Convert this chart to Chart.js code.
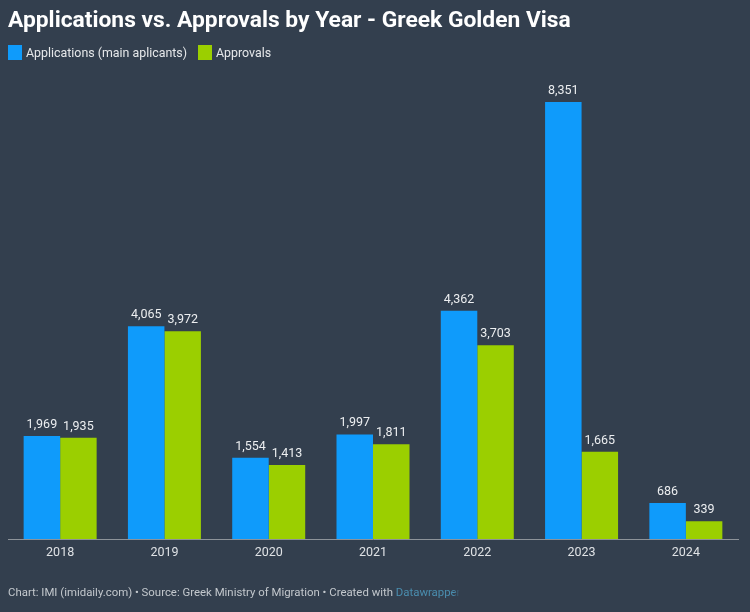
<!DOCTYPE html>
<html>
<head>
<meta charset="utf-8">
<script src="https://cdn.jsdelivr.net/npm/chart.js@4"></script>
<style>
  html, body { margin: 0; padding: 0; background: #333f4e; }
  body { position: relative; width: 750px; height: 612px; overflow: hidden; font-family: Roboto, sans-serif; }
  canvas { position: absolute; left: 0; top: 0; }
  .title { position: absolute; left: 8px; top: 6px; color: #fff; font-size: 22.8px; font-weight: 700; line-height: 28px; white-space: nowrap; }
  .legend { position: absolute; left: 8px; top: 45px; height: 15px; display: flex; align-items: center; color: #e6e8ea; font-size: 12.4px; white-space: nowrap; }
  .legend i { display: inline-block; width: 14px; height: 15px; margin-right: 4px; }
  .legend span { margin-right: 11px; }
  .footer { position: absolute; left: 8px; top: 585px; color: #c3c8cd; font-size: 11.4px; line-height: 14px; white-space: nowrap; }
  .footer b { font-weight: 400; color: #4a8dae; -webkit-mask-image: linear-gradient(to right, #000 90%, transparent 100%); mask-image: linear-gradient(to right, #000 90%, transparent 100%); }
</style>
</head>
<body>
<canvas id="chart" width="750" height="612"></canvas>
<div class="title">Applications vs. Approvals by Year - Greek Golden Visa</div>
<div class="legend" id="legend"></div>
<div class="footer">Chart: IMI (imidaily.com) • Source: Greek Ministry of Migration • Created with <b>Datawrapper</b></div>
<script>
const years = ['2018', '2019', '2020', '2021', '2022', '2023', '2024']
const applications = [1969, 4065, 1554, 1997, 4362, 8351, 686]
const approvals = [1935, 3972, 1413, 1811, 3703, 1665, 339]
const applicationsLabel = 'Applications (main aplicants)'
const approvalsLabel = 'Approvals'
const yMax = 9000

const BLUE = '#0f9bfb'
const GREEN = '#9bcf00'

document.getElementById('legend').innerHTML =
  `<i style="background:${BLUE}"></i><span>${applicationsLabel}</span>` +
  `<i style="background:${GREEN}"></i><span>${approvalsLabel}</span>`

// value labels above each bar
const barLabels = {
  id: 'barLabels',
  afterDatasetsDraw(chart) {
    const { ctx } = chart
    ctx.save()
    ctx.font = '12.5px Roboto'
    ctx.fillStyle = '#eceef0'
    ctx.textAlign = 'center'
    ctx.textBaseline = 'alphabetic'
    chart.data.datasets.forEach((dataset, i) => {
      chart.getDatasetMeta(i).data.forEach((bar, j) => {
        ctx.fillText(dataset.data[j].toLocaleString('en-US'), bar.x, bar.y - 8)
      })
    })
    ctx.restore()
  },
}

new Chart(document.getElementById('chart'), {
  type: 'bar',
  data: {
    labels: years,
    datasets: [
      { label: applicationsLabel, data: applications, backgroundColor: BLUE, categoryPercentage: 0.7, barPercentage: 1 },
      { label: approvalsLabel, data: approvals, backgroundColor: GREEN, categoryPercentage: 0.7, barPercentage: 1 },
    ],
  },
  options: {
    responsive: false,
    animation: false,
    layout: { padding: { left: 8, right: 12, top: 68, bottom: 0 } },
    plugins: { legend: { display: false }, title: { display: false }, tooltip: { enabled: false } },
    scales: {
      x: {
        grid: { display: false, drawTicks: false },
        border: { color: '#8d9399', width: 1 },
        ticks: { color: '#dfe2e5', font: { family: 'Roboto', size: 12.5 }, padding: 6, maxRotation: 0 },
        afterFit(scale) { scale.height = 73 },
      },
      y: { display: false, min: 0, max: yMax },
    },
  },
  plugins: [barLabels],
})
</script>
</body>
</html>
